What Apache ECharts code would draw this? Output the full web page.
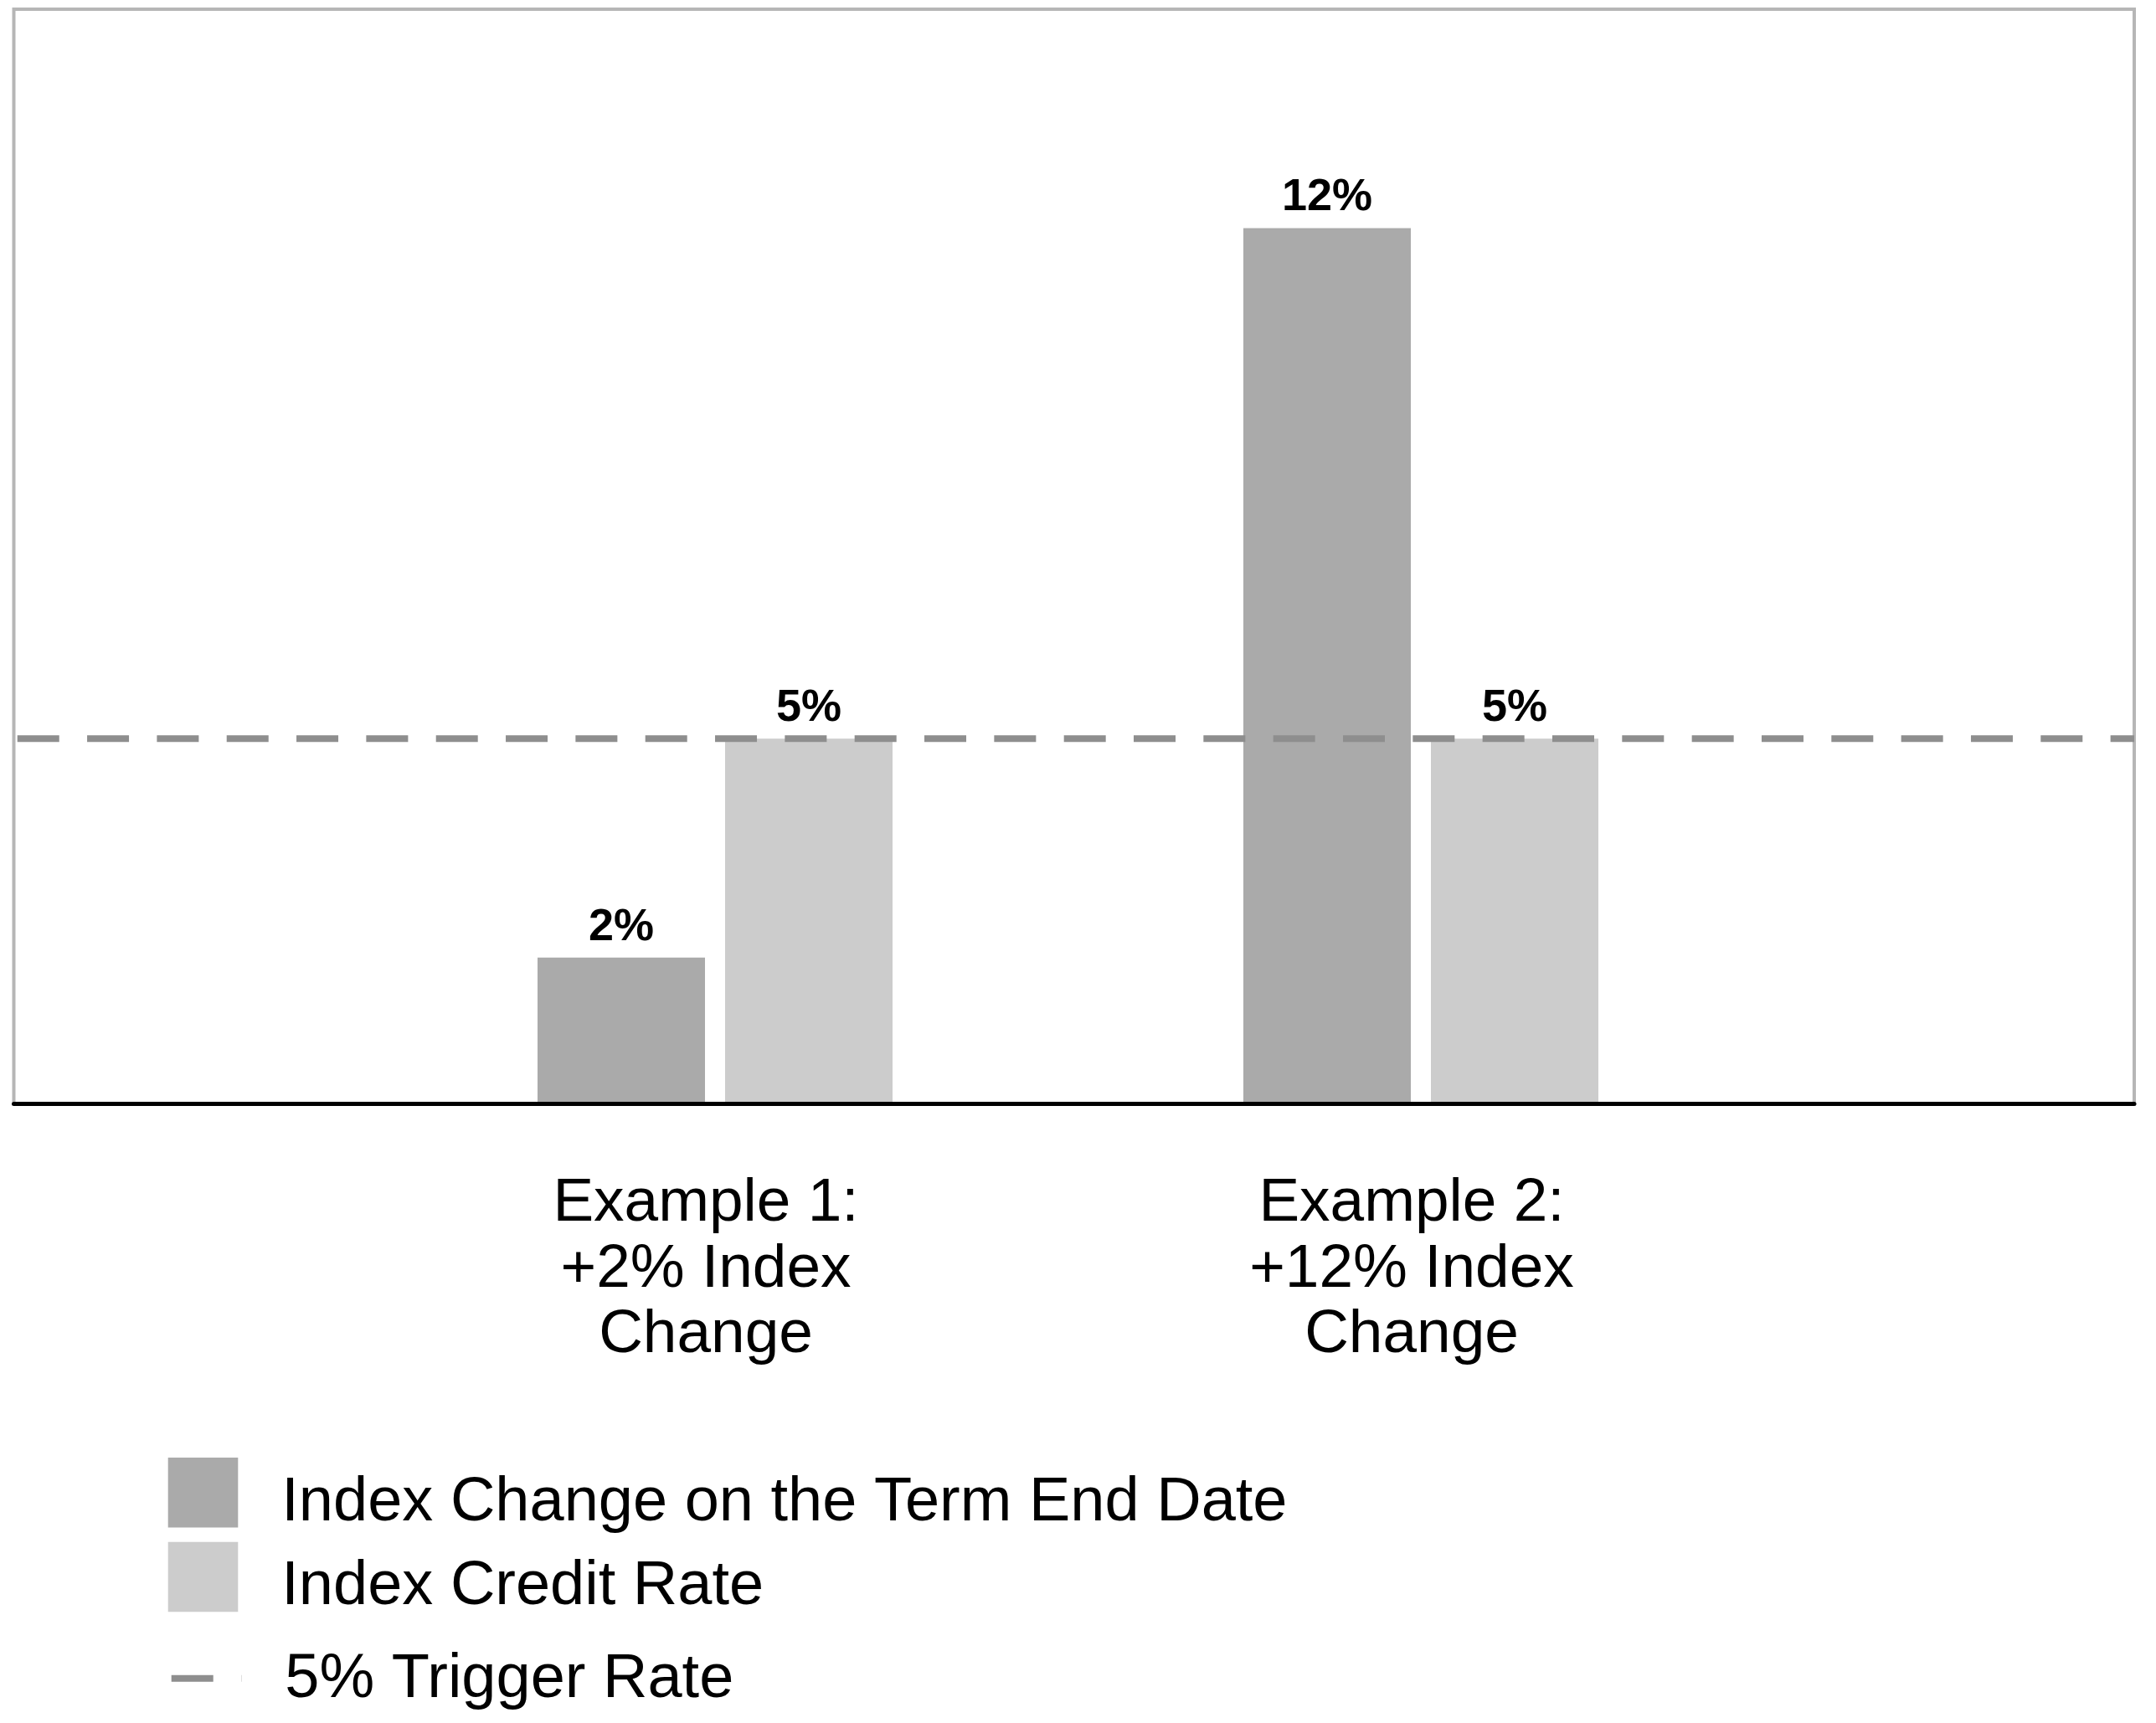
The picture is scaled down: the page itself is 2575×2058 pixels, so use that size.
<!DOCTYPE html>
<html>
<head>
<meta charset="utf-8">
<script src="https://cdn.jsdelivr.net/npm/echarts@6/dist/echarts.min.js"></script>
<style>
  html, body { margin: 0; padding: 0; background: #ffffff; }
  #chart { width: 2575px; height: 2058px; }
</style>
</head>
<body>
<div id="chart"></div>
<script>
// ---- data ----
const categories = ['Example 1:\n+2% Index\nChange', 'Example 2:\n+12% Index\nChange'];
const indexChange = [2, 12];          // Index Change on the Term End Date (%)
const creditRate = [5, 5];            // Index Credit Rate (%)
const triggerRate = 5;                // 5% Trigger Rate
const triggerLine = [triggerRate, triggerRate];
const frameSlots = ['start', 'end'];
const seriesNames = ['Index Change on the Term End Date', 'Index Credit Rate', '5% Trigger Rate'];

const FONT = '"Liberation Sans", Arial, sans-serif';
const chart = echarts.init(document.getElementById('chart'), null, { renderer: 'canvas' });

chart.setOption({
  animation: false,
  backgroundColor: '#ffffff',
  grid: [
    { left: 432.5, right: 456.5, top: 11, bottom: 740, show: false },
    { left: 16.5, right: 26, top: 11, bottom: 740, show: true,
      borderColor: '#b6b6b6', borderWidth: 4, backgroundColor: 'transparent' }
  ],
  xAxis: [
    { type: 'category', gridIndex: 0, data: categories, boundaryGap: true,
      axisLine: { show: false }, axisTick: { show: false },
      axisLabel: { show: true, interval: 0, margin: 81, color: '#000000',
        fontFamily: FONT, fontSize: 73, lineHeight: 78.5, align: 'center',
        padding: [0, 22, 0, 0] } },
    { type: 'category', gridIndex: 1, data: frameSlots, boundaryGap: false, z: 10,
      axisLine: { show: true, onZero: false, lineStyle: { color: '#000000', width: 5 } },
      axisTick: { show: false }, axisLabel: { show: false }, splitLine: { show: false } }
  ],
  yAxis: [
    { type: 'value', gridIndex: 0, min: 0, max: 15, show: false, splitLine: { show: false } },
    { type: 'value', gridIndex: 1, min: 0, max: 15, show: false, splitLine: { show: false } }
  ],
  legend: [
    { left: 200.7, top: 1733.3, orient: 'vertical', padding: 0, itemGap: 1.7,
      itemWidth: 83.6, itemHeight: 83.6, icon: 'rect',
      data: [seriesNames[0], seriesNames[1]],
      formatter: '{t|{name}}',
      textStyle: { color: '#000000', fontFamily: FONT, fontSize: 74,
        rich: { t: { color: '#000000', fontFamily: FONT, fontSize: 74, lineHeight: 50,
          padding: [25, 0, 0, 47] } } } },
    { left: 200.7, top: 1965.7, orient: 'vertical', padding: 0,
      itemWidth: 83.6, itemHeight: 83.6,
      data: [seriesNames[2]],
      formatter: '{t|{name}}',
      itemStyle: { opacity: 0 },
      lineStyle: { width: 8, type: [50, 33.33], color: '#8e8e8e', opacity: 1, dashOffset: 0 },
      textStyle: { color: '#000000', fontFamily: FONT, fontSize: 74,
        rich: { t: { color: '#000000', fontFamily: FONT, fontSize: 74, lineHeight: 60,
          padding: [4, 0, 0, 47] } } } }
  ],
  series: [
    { name: seriesNames[0], type: 'bar', xAxisIndex: 0, yAxisIndex: 0,
      data: indexChange, barWidth: 200, barGap: '12%',
      itemStyle: { color: '#aaaaaa' },
      label: { show: true, position: 'top', distance: 9, formatter: '{c}%',
        color: '#000000', fontFamily: FONT, fontWeight: 'bold', fontSize: 54 } },
    { name: seriesNames[1], type: 'bar', xAxisIndex: 0, yAxisIndex: 0,
      data: creditRate, barWidth: 200, barGap: '12%',
      itemStyle: { color: '#cccccc' },
      label: { show: true, position: 'top', distance: 9, formatter: '{c}%',
        color: '#000000', fontFamily: FONT, fontWeight: 'bold', fontSize: 54 } },
    { name: seriesNames[2], type: 'line', xAxisIndex: 1, yAxisIndex: 1, z: 5,
      data: triggerLine, symbol: 'none', silent: true,
      itemStyle: { color: '#8e8e8e' },
      lineStyle: { color: '#8e8e8e', width: 8, type: [50, 33.33], dashOffset: 79.1 } }
  ]
});
</script>
</body>
</html>
